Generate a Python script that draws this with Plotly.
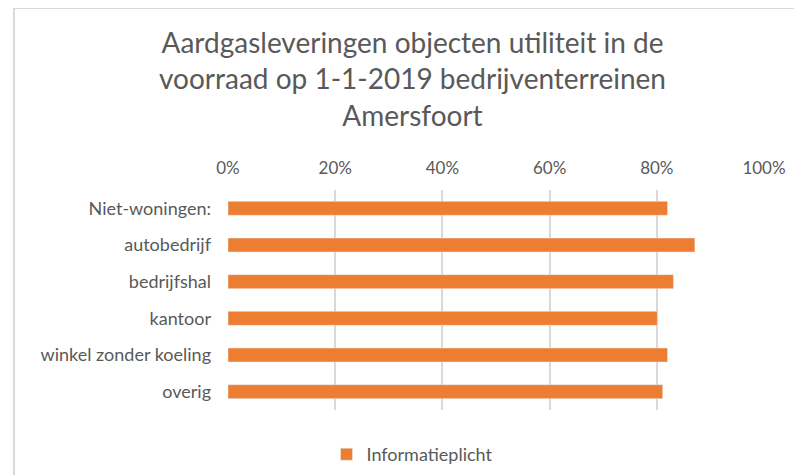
import plotly.graph_objects as go

categories = ["Niet-woningen:", "autobedrijf", "bedrijfshal", "kantoor", "winkel zonder koeling", "overig"]
values = [0.82, 0.871, 0.831, 0.801, 0.82, 0.811]
series_name = "Informatieplicht"
tick_vals = [0, 0.2, 0.4, 0.6, 0.8, 1.0]
tick_text = ["0%", "20%", "40%", "60%", "80%", "100%"]
title_text = "Aardgasleveringen objecten utiliteit in de<br>voorraad op 1-1-2019 bedrijventerreinen<br>Amersfoort"

W, H = 794, 467
L, R, T, B = 220, 38, 182, 65
PW, PH = W - L - R, H - T - B

fig = go.Figure()
fig.add_trace(go.Bar(
    y=categories, x=values, orientation="h", name=series_name,
    marker=dict(color="#ED7D31"), width=0.38, showlegend=True,
))

font_family = "Lato, 'Open Sans', sans-serif"
grey = "#595959"
fig.update_layout(
    width=W, height=H,
    margin=dict(l=L, r=R, t=T, b=B, autoexpand=False),
    paper_bgcolor="white", plot_bgcolor="white",
    font=dict(family=font_family, color=grey, size=17),
    xaxis=dict(
        side="top", range=[0, 1.0], tickvals=tick_vals, ticktext=tick_text,
        showgrid=True, gridcolor="#D9D9D9", gridwidth=1.5, zeroline=False,
        showline=False, ticks="", ticklabelstandoff=12,
        tickfont=dict(size=17, color=grey),
    ),
    yaxis=dict(
        categoryorder="array", categoryarray=categories, autorange="reversed",
        showgrid=False, showline=False, ticks="", ticklabelstandoff=16,
        tickfont=dict(size=18, color=grey),
    ),
    legend=dict(
        orientation="h", x=(404 - L) / PW, xanchor="center",
        y=-(436 - 8 - (T + PH)) / PH, yanchor="top",
        font=dict(size=18, color=grey),
    ),
    annotations=[dict(
        text=title_text, xref="paper", yref="paper",
        x=(404 - L) / PW, y=(T + PH - 71) / PH,
        xanchor="center", yanchor="middle", showarrow=False,
        font=dict(size=28, color=grey, family=font_family),
    )],
    shapes=[
        dict(type="line", xref="paper", yref="paper",
             x0=(6 - L) / PW, x1=(W + 20 - L) / PW,
             y0=(T + PH - 0) / PH, y1=(T + PH - 0) / PH,
             line=dict(color="#D9D9D9", width=2)),
        dict(type="line", xref="paper", yref="paper",
             x0=(6 - L) / PW, x1=(6 - L) / PW,
             y0=(T + PH - 0) / PH, y1=-(B + 20) / PH,
             line=dict(color="#D9D9D9", width=2)),
    ],
)

fig.write_html("out.html")
